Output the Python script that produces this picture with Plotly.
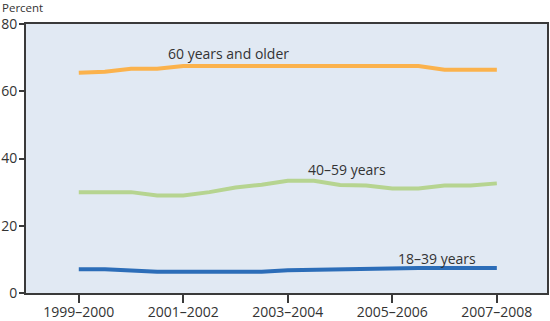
import plotly.graph_objects as go

period = [0, 0.25, 0.5, 0.75, 1.0, 1.25, 1.5, 1.75, 2.0, 2.25, 2.5, 2.75, 3.0, 3.25, 3.5, 3.75, 4.0]
tick_labels = ["1999–2000", "2001–2002", "2003–2004", "2005–2006", "2007–2008"]
tick_pos = [0, 1, 2, 3, 4]

age_60_plus = [65.5, 65.8, 66.7, 66.7, 67.5, 67.5, 67.5, 67.5, 67.5, 67.5, 67.5, 67.5, 67.5, 67.5, 66.4, 66.4, 66.4]
age_40_59 = [30.0, 30.0, 30.0, 29.0, 29.0, 30.0, 31.4, 32.2, 33.4, 33.4, 32.1, 32.0, 31.1, 31.1, 32.0, 32.0, 32.6]
age_18_39 = [7.1, 7.1, 6.7, 6.3, 6.3, 6.3, 6.3, 6.3, 6.8, 6.9, 7.0, 7.4, 7.4, 7.4, 7.4, 7.4, 7.4]

series = [
    ("60 years and older", age_60_plus, "#FBB24C", 1.43, 71.3),
    ("40–59 years", age_40_59, "#B6D490", 2.57, 36.7),
    ("18–39 years", age_18_39, "#2C6DB8", 3.43, 10.4),
]

fig = go.Figure()
for name, vals, color, ax, ay in series:
    fig.add_trace(go.Scatter(x=period, y=vals, mode="lines", name=name,
                             line=dict(color=color, width=4), hoverinfo="skip"))
    fig.add_annotation(x=ax, y=ay, text=name, showarrow=False,
                       font=dict(family="Open Sans", size=14, color="#333333"))

fig.add_annotation(xref="paper", yref="paper", x=0, y=1, xanchor="left", yanchor="bottom",
                   xshift=-25, yshift=8, text="Percent", showarrow=False, borderpad=0,
                   font=dict(family="Open Sans", size=11.5, color="#333333"))

fig.update_layout(
    width=550, height=321,
    margin=dict(l=26, r=3, t=24, b=28),
    paper_bgcolor="white", plot_bgcolor="#E1E9F3",
    showlegend=False,
    font=dict(family="Open Sans", size=14, color="#333333"),
)
fig.update_xaxes(range=[-0.505, 4.48], tickvals=tick_pos, ticktext=tick_labels,
                 showgrid=False, zeroline=False, showline=True, linecolor="#3a3a3a",
                 linewidth=2, mirror=True, ticks="outside", ticklen=8, tickwidth=1.5,
                 tickcolor="#3a3a3a", tickfont=dict(size=14), automargin=False,
                 ticklabelstandoff=-3)
fig.update_yaxes(range=[0, 80], tickvals=[0, 20, 40, 60, 80],
                 showgrid=False, zeroline=False, showline=True, linecolor="#3a3a3a",
                 linewidth=2, mirror=True, ticks="outside", ticklen=5, tickwidth=1.5,
                 tickcolor="#3a3a3a", tickfont=dict(size=14), automargin=False,
                 ticklabelstandoff=-1)

fig.write_html("out.html")
